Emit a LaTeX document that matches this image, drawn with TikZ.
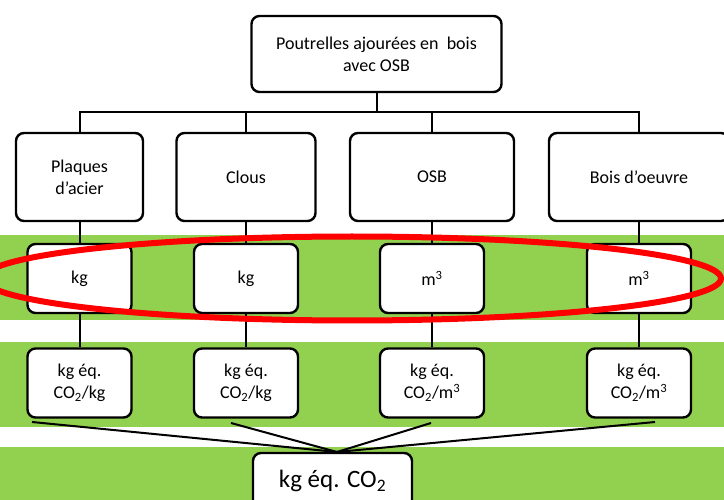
\documentclass[tikz,border=0pt]{standalone}
\usepackage{fontspec}
\setmainfont{Carlito}
\definecolor{bandgreen}{RGB}{146,208,80}
\tikzset{
  box/.style={draw, line width=2.4pt, rounded corners=8pt, fill=white, align=center, inner sep=0pt, font=\fontsize{18}{22}\selectfont},
  unitbox/.style={box, minimum width=104pt, minimum height=69pt},
  link/.style={draw, line width=2pt}
}
\begin{document}
\begin{tikzpicture}[x=1pt, y=-1pt]
\useasboundingbox (0,0) rectangle (724,500);
\clip (0,0) rectangle (724,500);
\fill[bandgreen] (0,235) rectangle (724,320);
\fill[bandgreen] (0,342) rectangle (724,427);
\fill[bandgreen] (0,447) rectangle (724,500);

\node[box, minimum width=250pt, minimum height=76pt] (root) at (376.5,54){Poutrelles ajourées en~~bois\\avec OSB};
\node[box, minimum width=127pt, minimum height=88pt] (plaques) at (79.5,177){Plaques\\d’acier};
\node[box, minimum width=139pt, minimum height=88pt] (clous) at (246,177){Clous};
\node[box, minimum width=164pt, minimum height=88pt] (osb) at (432,177){OSB};
\node[box, minimum width=180pt, minimum height=88pt] (bois) at (639,177){Bois d’oeuvre};

\node[unitbox] (u1) at (79.5,278.5){kg};
\node[unitbox] (u2) at (246,278.5){kg};
\node[unitbox] (u3) at (432,278.5){m\textsuperscript{3}};
\node[unitbox] (u4) at (639,278.5){m\textsuperscript{3}};

\node[unitbox] (f1) at (79.5,383){kg éq.\\CO\textsubscript{2}/kg};
\node[unitbox] (f2) at (246,383){kg éq.\\CO\textsubscript{2}/kg};
\node[unitbox] (f3) at (432,383){kg éq.\\CO\textsubscript{2}/m\textsuperscript{3}};
\node[unitbox] (f4) at (639,383){kg éq.\\CO\textsubscript{2}/m\textsuperscript{3}};

\node[box, minimum width=159pt, minimum height=56pt, font=\fontsize{25}{30}\selectfont] (total) at (332.5,481){kg éq. CO\textsubscript{2}};

\coordinate (bar) at (376.5,112);
\draw[link](root) -- (bar);
\draw[link](bar) -| (plaques);
\draw[link](bar) -| (clous);
\draw[link](bar) -| (osb);
\draw[link](bar) -| (bois);
\draw[link](plaques) -- (u1);
\draw[link](clous) -- (u2);
\draw[link](osb) -- (u3);
\draw[link](bois) -- (u4);
\draw[link](u1) -- (f1);
\draw[link](u2) -- (f2);
\draw[link](u3) -- (f3);
\draw[link](u4) -- (f4);

\coordinate (apex) at (337,452);
\coordinate (s1) at (32,422);
\coordinate (s2) at (231,423);
\coordinate (s3) at (431,423);
\coordinate (s4) at (655,422);
\draw[link](s1) -- (apex);
\draw[link](s2) -- (apex);
\draw[link](s3) -- (apex);
\draw[link](s4) -- (apex);

\draw[red, line width=6pt] (352,278.5) ellipse [x radius=369pt, y radius=42pt];
\end{tikzpicture}
\end{document}
